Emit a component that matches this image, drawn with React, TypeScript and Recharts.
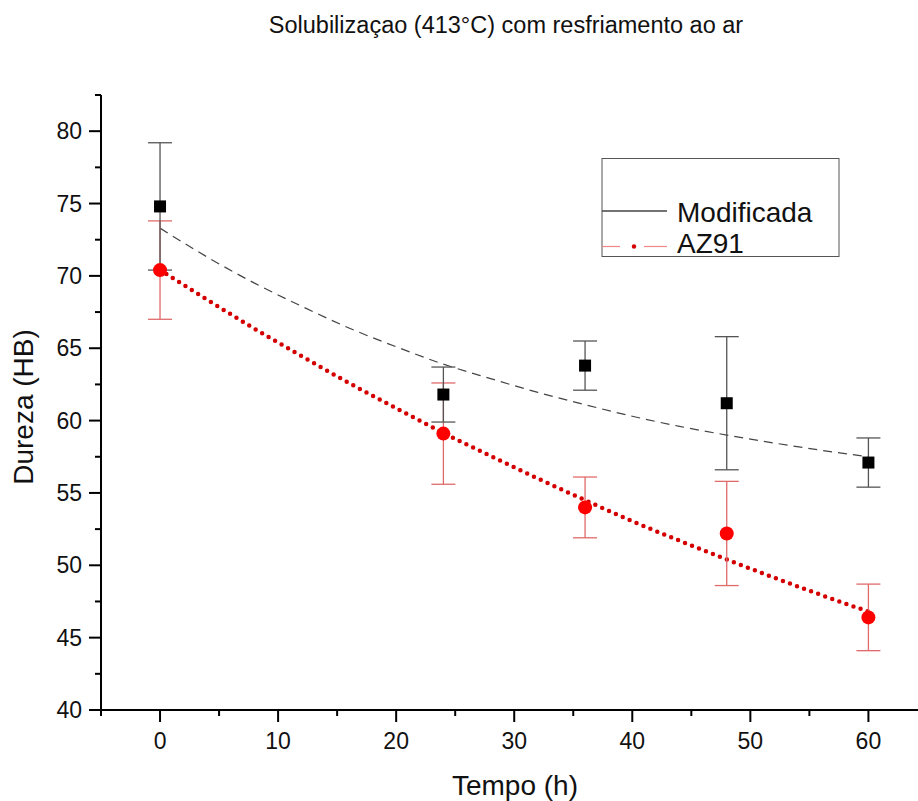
import React from "react";
import {
  ComposedChart,
  Line,
  Scatter,
  ErrorBar,
  XAxis,
  YAxis,
} from "recharts";

// measured points (mean ± error)
const tempo = [0, 24, 36, 48, 60];
const modificada = [74.8, 61.8, 63.8, 61.2, 57.1];
const modificadaErr = [4.4, 1.9, 1.7, 4.6, 1.7];
const az91 = [70.4, 59.1, 54.0, 52.2, 46.4];
const az91Err = [3.4, 3.5, 2.1, 3.6, 2.3];

// fitted curves
const fitX = [0, 4, 8, 12, 16, 20, 24, 28, 32, 36, 40, 44, 48, 52, 56, 60];
const fitModificada = [73.3, 71.3, 69.5, 67.9, 66.4, 65.1, 63.9, 62.9, 61.95, 61.1, 60.3, 59.6, 59.0, 58.45, 57.95, 57.5];
const fitAz91 = [70.4, 68.35, 66.35, 64.45, 62.6, 60.85, 59.15, 57.55, 56.0, 54.5, 53.05, 51.7, 50.4, 49.15, 47.95, 46.8];

const xTicks = [-5, 0, 5, 10, 15, 20, 25, 30, 35, 40, 45, 50, 55, 60];
const yTicks = [40, 42.5, 45, 47.5, 50, 52.5, 55, 57.5, 60, 62.5, 65, 67.5, 70, 72.5, 75, 77.5, 80, 82.5];

const FONT = "'Liberation Sans', Arial, sans-serif";
const AXIS_X = 101;
const AXIS_Y = 710;

const modPoints = tempo.map((x, i) => ({ x, y: modificada[i], err: modificadaErr[i] }));
const azPoints = tempo.map((x, i) => ({ x, y: az91[i], err: az91Err[i] }));
const modFit = fitX.map((x, i) => ({ x, y: fitModificada[i] }));
const azFit = fitX.map((x, i) => ({ x, y: fitAz91[i] }));

function YTick(props: any) {
  const { y, payload } = props;
  const major = payload.value % 5 === 0;
  return (
    <g>
      <line x1={AXIS_X - (major ? 12 : 6)} x2={AXIS_X} y1={y} y2={y} stroke="#000" strokeWidth={2} />
      {major && (
        <text x={82} y={y + 8} textAnchor="end" fontSize={23} fontFamily={FONT} fill="#111">
          {payload.value}
        </text>
      )}
    </g>
  );
}

function XTick(props: any) {
  const { x, payload } = props;
  const major = payload.value % 10 === 0;
  return (
    <g>
      <line x1={x} x2={x} y1={AXIS_Y} y2={AXIS_Y + (major ? 12 : 6)} stroke="#000" strokeWidth={2} />
      {major && (
        <text x={x} y={749} textAnchor="middle" fontSize={23} fontFamily={FONT} fill="#111">
          {payload.value}
        </text>
      )}
    </g>
  );
}

const Square = (props: any) => {
  const { cx, cy } = props;
  return <rect x={cx - 6} y={cy - 6} width={12} height={12} fill="#000" />;
};

const Dot = (props: any) => {
  const { cx, cy } = props;
  return <circle cx={cx} cy={cy} r={7} fill="#ff0000" />;
};

export default function App() {
  return (
    <div style={{ position: "absolute", left: 0, top: 0, width: 918, height: 801, background: "#fff" }}>
      <ComposedChart width={918} height={801} margin={{ top: 95, right: 0, bottom: 0, left: 0 }}>
        <XAxis
          type="number"
          dataKey="x"
          domain={[-5, 64.2]}
          allowDataOverflow
          ticks={xTicks}
          interval={0}
          height={91}
          tick={<XTick />}
          tickLine={false}
          axisLine={{ stroke: "#000", strokeWidth: 2 }}
        />
        <YAxis
          type="number"
          dataKey="y"
          domain={[40, 82.5]}
          allowDataOverflow
          ticks={yTicks}
          interval={0}
          width={101}
          tick={<YTick />}
          tickLine={false}
          axisLine={{ stroke: "#000", strokeWidth: 2 }}
        />
        <Line
          data={modFit}
          dataKey="y"
          type="monotone"
          stroke="#444"
          strokeWidth={1.2}
          strokeDasharray="9 6"
          dot={false}
          isAnimationActive={false}
        />
        <Line
          data={azFit}
          dataKey="y"
          type="monotone"
          stroke="#d40000"
          strokeWidth={4.5}
          strokeDasharray="0 7.5"
          strokeLinecap="round"
          dot={false}
          isAnimationActive={false}
        />
        <Scatter data={azPoints} dataKey="y" shape={<Dot />} isAnimationActive={false}>
          <ErrorBar dataKey="err" direction="y" width={12} stroke="#e06a6a" strokeWidth={1.3} />
        </Scatter>
        <Scatter data={modPoints} dataKey="y" shape={<Square />} isAnimationActive={false}>
          <ErrorBar dataKey="err" direction="y" width={12} stroke="#555" strokeWidth={1.3} />
        </Scatter>
      </ComposedChart>

      <svg
        width={918}
        height={801}
        style={{ position: "absolute", left: 0, top: 0, pointerEvents: "none" }}
        fontFamily={FONT}
      >
        <text x={506} y={33} textAnchor="middle" fontSize={23.5} fill="#111">
          Solubilizaçao (413°C) com resfriamento ao ar
        </text>
        <text x={515} y={795} textAnchor="middle" fontSize={28} fill="#111">
          Tempo (h)
        </text>
        <text x={33} y={407} textAnchor="middle" fontSize={28} fill="#111" transform="rotate(-90 33 407)">
          Dureza (HB)
        </text>

        <rect x={602} y={158.5} width={237} height={98} fill="#fff" stroke="#555" strokeWidth={1} />
        <line x1={602} x2={667} y1={211} y2={211} stroke="#444" strokeWidth={1.5} />
        <text x={677} y={221.5} fontSize={28} fill="#111">Modificada</text>
        <line x1={602} x2={620} y1={246.5} y2={246.5} stroke="#e88" strokeWidth={1.2} />
        <line x1={644} x2={667} y1={246.5} y2={246.5} stroke="#e88" strokeWidth={1.2} />
        <circle cx={634} cy={246.5} r={2.2} fill="#d40000" />
        <text x={677} y={253} fontSize={28} fill="#111">AZ91</text>
      </svg>
    </div>
  );
}
